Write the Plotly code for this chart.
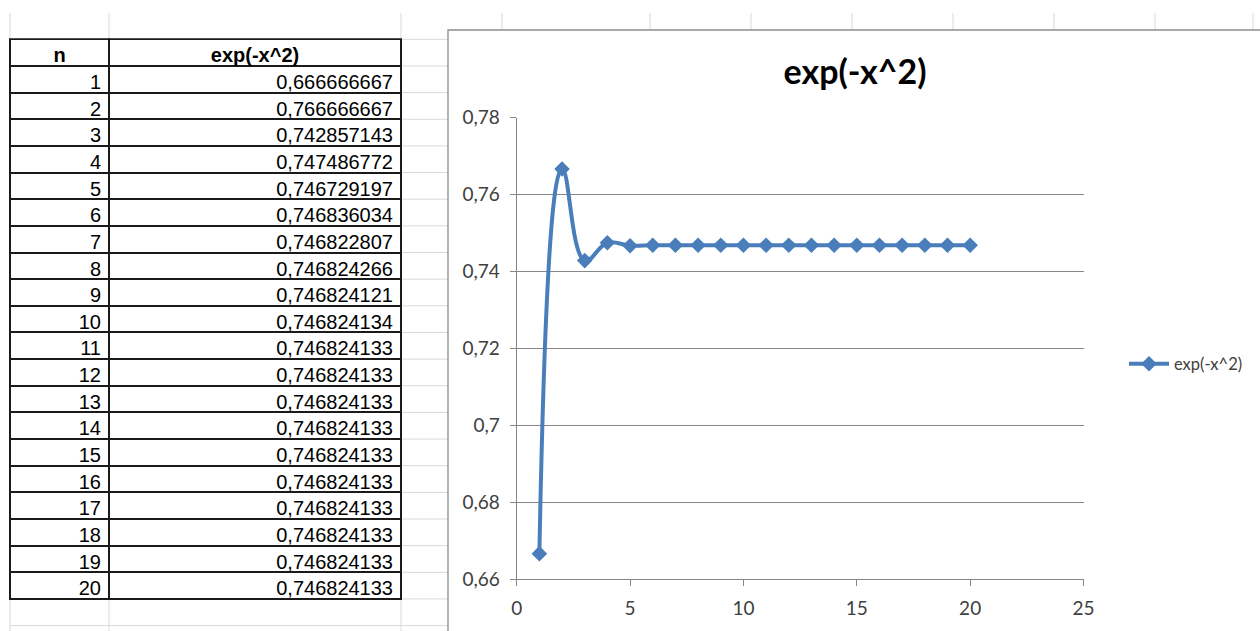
import plotly.graph_objects as go

# Series: partial sums approximating the integral of exp(-x^2)
n_values = list(range(1, 21))
approx_values = [
    0.666666667, 0.766666667, 0.742857143, 0.747486772, 0.746729197,
    0.746836034, 0.746822807, 0.746824266, 0.746824121, 0.746824134,
    0.746824133, 0.746824133, 0.746824133, 0.746824133, 0.746824133,
    0.746824133, 0.746824133, 0.746824133, 0.746824133, 0.746824133,
]
series_name = "exp(-x^2)"
table_header = ["n", "exp(-x^2)"]
y_ticks = [0.66, 0.68, 0.70, 0.72, 0.74, 0.76, 0.78]
y_tick_labels = ["0,66", "0,68", "0,7", "0,72", "0,74", "0,76", "0,78"]
x_ticks = [0, 5, 10, 15, 20, 25]

W, H = 1260, 631


def px(x):
    return x / W


def py(y):
    return 1 - y / H


def excel_fmt(v):
    return f"{v:.9f}".replace(".", ",")


fig = go.Figure()

# Worksheet table; plain strings (no markup) keep the fixed row height
ROW_H = 26.65
TABLE_TOP = 39.3
TABLE_BOTTOM = TABLE_TOP + ROW_H * 21
CELL_FONT = "Arial, Liberation Sans"
fig.add_trace(go.Table(
    domain=dict(x=[px(10), px(401)], y=[py(TABLE_BOTTOM + 2), py(TABLE_TOP)]),
    columnwidth=[99, 292],
    header=dict(
        values=table_header,
        height=ROW_H,
        align="center",
        font=dict(family=CELL_FONT, size=20, color="black", weight="bold"),
        line=dict(color="#1a1a1a", width=2),
        fill=dict(color="white"),
    ),
    cells=dict(
        values=[[str(v) for v in n_values], [excel_fmt(v) for v in approx_values]],
        height=ROW_H,
        align="right",
        font=dict(family=CELL_FONT, size=20, color="black"),
        line=dict(color="#1a1a1a", width=2),
        fill=dict(color="white"),
    ),
))

# Line chart
fig.add_trace(go.Scatter(
    x=n_values, y=approx_values, name=series_name,
    mode="lines+markers",
    line=dict(color="#4A7EBB", width=4, shape="spline", smoothing=1.2),
    marker=dict(symbol="diamond", size=12, color="#4A7EBB"),
    showlegend=True,
))

shapes = []
GRID = "#d9d9d9"
# Chart frame
CH_L, CH_T = 448, 30
# Worksheet gridlines outside the chart object
row_lines = [TABLE_TOP + ROW_H * k for k in range(23)]
for y in row_lines:
    shapes.append(dict(type="line", xref="paper", yref="paper",
                       x0=px(401), x1=px(CH_L), y0=py(y), y1=py(y),
                       line=dict(color=GRID, width=1), layer="below"))
shapes.append(dict(type="line", xref="paper", yref="paper",
                   x0=px(10), x1=px(401), y0=py(row_lines[-1]), y1=py(row_lines[-1]),
                   line=dict(color=GRID, width=1), layer="below"))
for x in [10, 109, 401]:
    shapes.append(dict(type="line", xref="paper", yref="paper",
                       x0=px(x), x1=px(x), y0=py(13), y1=py(H + 2),
                       line=dict(color=GRID, width=1), layer="below"))
for x in [502, 650, 751, 852, 953, 1054, 1155, 1253]:
    shapes.append(dict(type="line", xref="paper", yref="paper",
                       x0=px(x), x1=px(x), y0=py(13), y1=py(CH_T),
                       line=dict(color=GRID, width=1), layer="below"))
shapes.append(dict(type="rect", xref="paper", yref="paper",
                   x0=px(CH_L), x1=px(W + 20), y0=py(H + 20), y1=py(CH_T),
                   line=dict(color="#8c8c8c", width=1.3), fillcolor="white",
                   layer="below"))

AX = "#868686"
TXT = "#404040"
fig.update_layout(
    width=W, height=H,
    margin=dict(l=0, r=0, t=0, b=0, autoexpand=False),
    paper_bgcolor="white", plot_bgcolor="rgba(0,0,0,0)",
    shapes=shapes,
    title=dict(text="exp(-x^2)", x=px(855), y=py(72),
               xanchor="center", yanchor="middle",
               font=dict(family="Lato", size=34, color="black", weight="bold")),
    xaxis=dict(domain=[px(516.7), px(1083.5)], range=[0, 25],
               tickvals=x_ticks, showgrid=False, zeroline=False,
               showline=True, linecolor=AX, linewidth=1.3,
               ticks="outside", ticklen=6, tickcolor=AX, tickwidth=1.3,
               ticklabelstandoff=6,
               tickfont=dict(family="Lato", size=19, color=TXT)),
    yaxis=dict(domain=[py(579.3), py(117.7)], range=[0.66, 0.78],
               tickvals=y_ticks, ticktext=y_tick_labels,
               showgrid=True, gridcolor=AX, gridwidth=1.3, zeroline=False,
               showline=True, linecolor=AX, linewidth=1.3,
               ticks="outside", ticklen=6, tickcolor=AX, tickwidth=1.3,
               ticklabelstandoff=6,
               tickfont=dict(family="Lato", size=19, color=TXT)),
    legend=dict(x=px(1124), y=py(364), xanchor="left", yanchor="middle",
                font=dict(family="Lato", size=16.5, color=TXT),
                bgcolor="rgba(0,0,0,0)", itemwidth=40),
    showlegend=True,
)

fig.write_html("out.html")
